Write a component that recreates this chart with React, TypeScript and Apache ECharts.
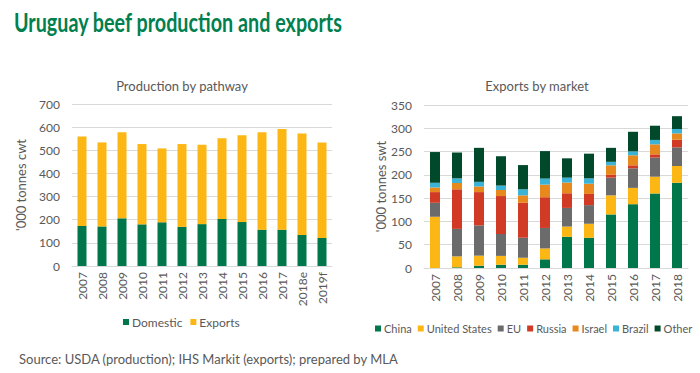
import React, { useEffect, useRef } from "react";
import * as echarts from "echarts";

const prodYears = ["2007", "2008", "2009", "2010", "2011", "2012", "2013", "2014", "2015", "2016", "2017", "2018e", "2019f"];
const domestic = [173, 171, 206, 180, 189, 169, 181, 203, 190, 157, 157, 134, 121];
const prodTotal = [560, 534, 578, 527, 508, 527, 524, 552, 565, 578, 592, 573, 534];
const exportsProd = prodTotal.map((t, i) => t - domestic[i]);

const expYears = ["2007", "2008", "2009", "2010", "2011", "2012", "2013", "2014", "2015", "2016", "2017", "2018"];
const china = [0, 1.5, 5, 7, 7, 18.6, 67, 65, 115, 137, 160, 183];
const us = [110, 23.5, 21.5, 19, 15, 23.4, 22, 30, 41, 35, 36, 36];
const eu = [30, 59, 65, 47, 43, 44, 40, 40, 38, 42, 41, 40];
const russia = [23, 85, 71.5, 81.5, 75, 66, 31.5, 24, 6, 6.5, 7, 16.5];
const israel = [10, 13.5, 12, 13, 16, 27, 23, 22, 20.5, 21.5, 21.5, 13.5];
const brazil = [10, 10, 10, 9.5, 13, 13, 10.5, 11.5, 7.5, 8.5, 9.5, 9.5];
const other = [66, 55.5, 73, 63, 52, 59, 41.5, 53, 30, 42, 30.5, 27.5];

const prodTicks = { min: 0, max: 700, interval: 100 };
const expTicks = { min: 0, max: 350, interval: 50 };

const GREEN = "#00774A";
const YELLOW = "#FDB714";
const GREY = "#6B6B6B";
const RED = "#D13B26";
const ORANGE = "#E8891E";
const BLUE = "#3BB3D6";
const DKGREEN = "#00492B";
const TXT = "#595959";
const FONT = "Lato, 'Open Sans', sans-serif";

export default function App() {
  const ref = useRef<HTMLDivElement>(null);
  useEffect(() => {
    document.body.style.margin = "0";
    const chart = echarts.init(ref.current!, null, { renderer: "svg" });
    const catAxis = (gridIndex: number, data: string[]) => ({
      type: "category",
      gridIndex,
      data,
      axisLine: { show: true, lineStyle: { color: "#D9D9D9" } },
      axisTick: { show: false },
      axisLabel: { rotate: 90, color: TXT, fontSize: 12, fontFamily: FONT, margin: 6, interval: 0 },
    });
    const valAxis = (gridIndex: number, t: any, name: string, gap: number) => ({
      type: "value",
      gridIndex,
      min: t.min,
      max: t.max,
      interval: t.interval,
      name,
      nameLocation: "middle",
      nameRotate: 90,
      nameGap: gap,
      nameTextStyle: { color: TXT, fontSize: 13, fontFamily: FONT },
      axisLine: { show: false },
      axisTick: { show: false },
      axisLabel: { color: TXT, fontSize: 12, fontFamily: FONT, margin: 12 },
      splitLine: { lineStyle: { color: "#D9D9D9", width: 1 } },
    });
    const bar = (name: string, data: number[], color: string, idx: number, stack: string, bw: number) => ({
      type: "bar",
      name,
      data,
      stack,
      xAxisIndex: idx,
      yAxisIndex: idx,
      barWidth: bw,
      itemStyle: { color },
    });
    chart.setOption({
      animation: false,
      textStyle: { fontFamily: FONT },
      graphic: [
        {
          type: "text",
          x: 14,
          y: 9,
          scaleX: 0.76,
          style: {
            text: "Uruguay beef production and exports",
            fill: "#00804F",
            font: "bold 26px Lato, sans-serif",
            textVerticalAlign: "top",
          },
        },
      ],
      title: [
        {
          text: "Production by pathway",
          left: 177,
          textAlign: "center",
          top: 74,
          textStyle: { color: TXT, fontSize: 13, fontWeight: "normal", fontFamily: FONT },
        },
        {
          text: "Exports by market",
          left: 532,
          textAlign: "center",
          top: 74,
          textStyle: { color: TXT, fontSize: 13, fontWeight: "normal", fontFamily: FONT },
        },
        {
          text: "Source: USDA (production); IHS Markit (exports); prepared by MLA",
          left: 14,
          top: 347,
          textStyle: { color: TXT, fontSize: 13, fontWeight: "normal", fontFamily: FONT },
        },
      ],
      legend: [
        {
          data: ["Domestic", "Exports"],
          left: 118,
          top: 311,
          itemWidth: 6,
          itemHeight: 6,
          itemGap: 8,
          icon: "rect",
          textStyle: { color: TXT, fontSize: 12, fontFamily: FONT, padding: [0, 0, 0, -2] },
        },
        {
          data: ["China", "United States", "EU", "Russia", "Israel", "Brazil", "Other"],
          left: 370,
          top: 318,
          itemWidth: 6,
          itemHeight: 6,
          itemGap: 6,
          icon: "rect",
          textStyle: { color: TXT, fontSize: 11, fontFamily: FONT, padding: [0, 0, 0, -2] },
        },
      ],
      grid: [
        { left: 72, width: 260, top: 104, height: 162 },
        { left: 424, width: 264, top: 105, height: 163 },
      ],
      xAxis: [catAxis(0, prodYears), catAxis(1, expYears)],
      yAxis: [
        valAxis(0, prodTicks, "'000 tonnes cwt", 45),
        valAxis(1, expTicks, "'000 tonnes swt", 32),
      ],
      series: [
        bar("Domestic", domestic, GREEN, 0, "prod", 9),
        bar("Exports", exportsProd, YELLOW, 0, "prod", 9),
        bar("China", china, GREEN, 1, "exp", 10),
        bar("United States", us, YELLOW, 1, "exp", 10),
        bar("EU", eu, GREY, 1, "exp", 10),
        bar("Russia", russia, RED, 1, "exp", 10),
        bar("Israel", israel, ORANGE, 1, "exp", 10),
        bar("Brazil", brazil, BLUE, 1, "exp", 10),
        bar("Other", other, DKGREEN, 1, "exp", 10),
      ],
    });
    return () => chart.dispose();
  }, []);
  return <div ref={ref} style={{ width: 700, height: 373 }} />;
}
